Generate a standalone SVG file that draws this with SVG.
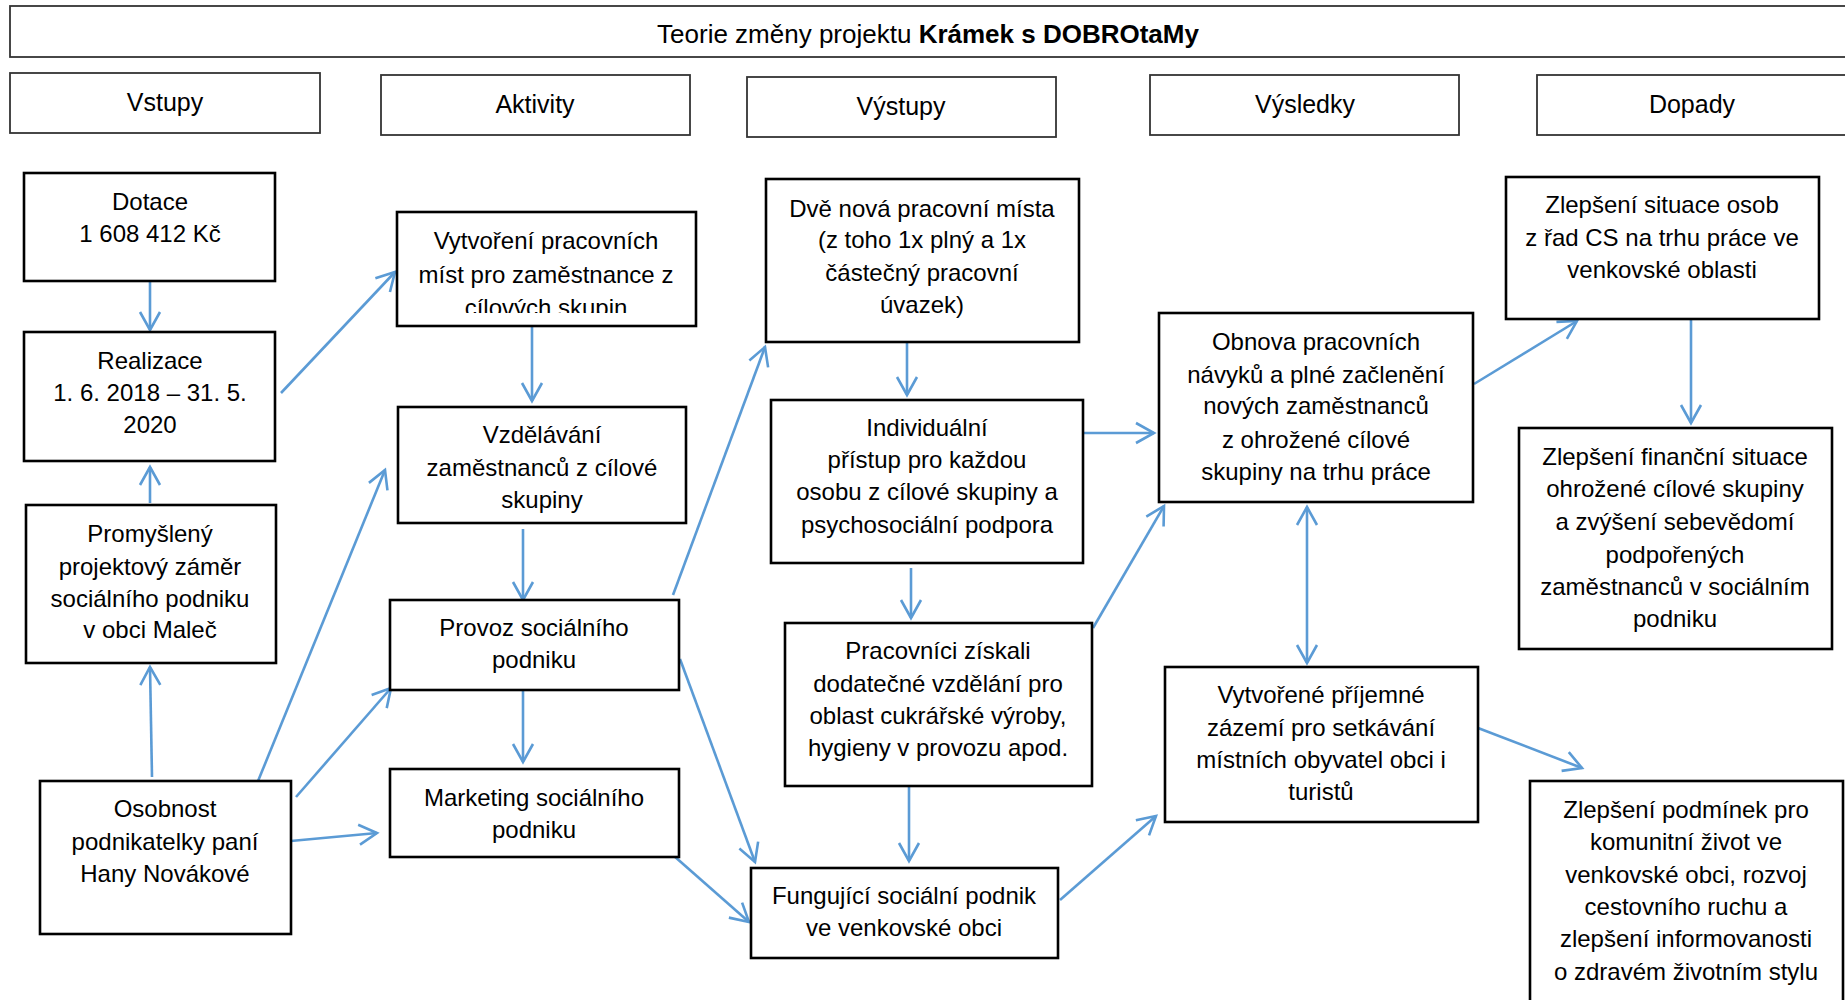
<svg xmlns="http://www.w3.org/2000/svg" width="1845" height="1000" viewBox="0 0 1845 1000">
<style>
text { font-family: "Liberation Sans", Arial, sans-serif; font-size: 24px; text-anchor: middle; fill: #000; }
.node rect { fill: #fff; stroke: #000; stroke-width: 2.6; }
.hdr rect { fill: #fff; stroke: #333; stroke-width: 1.8; }
.hdr text { font-size: 25px; }
#title text { font-size: 26px; }
.conn line { stroke: #5B9BD5; stroke-width: 2.6; fill: none; marker-end: url(#arr); }
.conn line.both { marker-start: url(#arr); }
</style>
<defs>
<marker id="arr" markerUnits="userSpaceOnUse" markerWidth="24" markerHeight="24" viewBox="0 0 24 24" refX="21" refY="12" orient="auto-start-reverse">
<path d="M3,2 L21,12 L3,22" fill="none" stroke="#5B9BD5" stroke-width="2.6"/>
</marker>
<clipPath id="clipVyt"><rect x="397" y="212" width="299" height="101"/></clipPath>
</defs>
<rect x="0" y="0" width="1845" height="1000" fill="#fff"/>

<g id="title" class="hdr">
<rect x="10" y="6" width="1837" height="51"/>
<text x="928" y="43">Teorie změny projektu <tspan font-weight="bold">Krámek s DOBROtaMy</tspan></text>
</g>

<g id="h-vstupy" class="hdr"><rect x="10" y="73" width="310" height="60"/><text x="165" y="111">Vstupy</text></g>
<g id="h-aktivity" class="hdr"><rect x="381" y="75" width="309" height="60"/><text x="535" y="113">Aktivity</text></g>
<g id="h-vystupy" class="hdr"><rect x="747" y="77" width="309" height="60"/><text x="901" y="115">Výstupy</text></g>
<g id="h-vysledky" class="hdr"><rect x="1150" y="75" width="309" height="60"/><text x="1305" y="113">Výsledky</text></g>
<g id="h-dopady" class="hdr"><rect x="1537" y="75" width="312" height="60"/><text x="1692" y="113">Dopady</text></g>

<g id="conns" class="conn">
<line x1="150" y1="282" x2="150" y2="330"/>
<line x1="150" y1="503" x2="150" y2="467"/>
<line x1="152" y1="777" x2="150" y2="667"/>
<line x1="281" y1="393" x2="395" y2="272"/>
<line x1="256" y1="786" x2="385" y2="470"/>
<line x1="296" y1="797" x2="391" y2="688"/>
<line x1="280" y1="842" x2="377" y2="833"/>
<line x1="532" y1="327" x2="532" y2="401"/>
<line x1="523" y1="529" x2="523" y2="600"/>
<line x1="523" y1="687" x2="523" y2="762"/>
<line x1="673" y1="595" x2="765" y2="347"/>
<line x1="680" y1="659" x2="755" y2="862"/>
<line x1="674" y1="856" x2="749" y2="922"/>
<line x1="907" y1="342" x2="907" y2="395"/>
<line x1="911" y1="568" x2="911" y2="618"/>
<line x1="909" y1="787" x2="909" y2="861"/>
<line x1="1084" y1="433" x2="1154" y2="433"/>
<line x1="1093" y1="628" x2="1164" y2="506"/>
<line x1="1060" y1="900" x2="1156" y2="816"/>
<line class="both" x1="1307" y1="507" x2="1307" y2="663"/>
<line x1="1474" y1="384" x2="1577" y2="321"/>
<line x1="1691" y1="319" x2="1691" y2="423"/>
<line x1="1478" y1="728" x2="1582" y2="768"/>
</g>

<g id="n-dotace" class="node"><rect x="24" y="173" width="251" height="108"/>
<text x="150" y="210">Dotace</text><text x="150" y="242">1 608 412 Kč</text></g>

<g id="n-realizace" class="node"><rect x="24" y="332" width="251" height="129"/>
<text x="150" y="369">Realizace</text><text x="150" y="401">1. 6. 2018 – 31. 5.</text><text x="150" y="433">2020</text></g>

<g id="n-zamer" class="node"><rect x="26" y="505" width="250" height="158"/>
<text x="150" y="542">Promyšlený</text><text x="150" y="575">projektový záměr</text><text x="150" y="607">sociálního podniku</text><text x="150" y="638">v obci Maleč</text></g>

<g id="n-osobnost" class="node"><rect x="40" y="781" width="251" height="153"/>
<text x="165" y="817">Osobnost</text><text x="165" y="850">podnikatelky paní</text><text x="165" y="882">Hany Novákové</text></g>

<g id="n-vytvoreni" class="node"><rect x="397" y="212" width="299" height="114"/>
<text x="546" y="249">Vytvoření pracovních</text><text x="546" y="283">míst pro zaměstnance z</text><text x="546" y="316" clip-path="url(#clipVyt)">cílových skupin</text></g>

<g id="n-vzdelavani" class="node"><rect x="398" y="407" width="288" height="116"/>
<text x="542" y="443">Vzdělávání</text><text x="542" y="476">zaměstnanců z cílové</text><text x="542" y="508">skupiny</text></g>

<g id="n-provoz" class="node"><rect x="390" y="600" width="289" height="90"/>
<text x="534" y="636">Provoz sociálního</text><text x="534" y="668">podniku</text></g>

<g id="n-marketing" class="node"><rect x="390" y="769" width="289" height="88"/>
<text x="534" y="806">Marketing sociálního</text><text x="534" y="838">podniku</text></g>

<g id="n-mista" class="node"><rect x="766" y="179" width="313" height="163"/>
<text x="922" y="217">Dvě nová pracovní místa</text><text x="922" y="248">(z toho 1x plný a 1x</text><text x="922" y="281">částečný pracovní</text><text x="922" y="313">úvazek)</text></g>

<g id="n-pristup" class="node"><rect x="771" y="400" width="312" height="163"/>
<text x="927" y="436">Individuální</text><text x="927" y="468">přístup pro každou</text><text x="927" y="500">osobu z cílové skupiny a</text><text x="927" y="533">psychosociální podpora</text></g>

<g id="n-pracovnici" class="node"><rect x="785" y="623" width="307" height="163"/>
<text x="938" y="659">Pracovníci získali</text><text x="938" y="692">dodatečné vzdělání pro</text><text x="938" y="724">oblast cukrářské výroby,</text><text x="938" y="756">hygieny v provozu apod.</text></g>

<g id="n-fungujici" class="node"><rect x="751" y="868" width="307" height="90"/>
<text x="904" y="904">Fungující sociální podnik</text><text x="904" y="936">ve venkovské obci</text></g>

<g id="n-obnova" class="node"><rect x="1159" y="313" width="314" height="189"/>
<text x="1316" y="350">Obnova pracovních</text><text x="1316" y="383">návyků a plné začlenění</text><text x="1316" y="414">nových zaměstnanců</text><text x="1316" y="448">z ohrožené cílové</text><text x="1316" y="480">skupiny na trhu práce</text></g>

<g id="n-zazemi" class="node"><rect x="1165" y="667" width="313" height="155"/>
<text x="1321" y="703">Vytvořené příjemné</text><text x="1321" y="736">zázemí pro setkávání</text><text x="1321" y="768">místních obyvatel obci i</text><text x="1321" y="800">turistů</text></g>

<g id="n-situace" class="node"><rect x="1506" y="177" width="313" height="142"/>
<text x="1662" y="213">Zlepšení situace osob</text><text x="1662" y="246">z řad CS na trhu práce ve</text><text x="1662" y="278">venkovské oblasti</text></g>

<g id="n-financni" class="node"><rect x="1519" y="428" width="313" height="221"/>
<text x="1675" y="465">Zlepšení finanční situace</text><text x="1675" y="497">ohrožené cílové skupiny</text><text x="1675" y="530">a zvýšení sebevědomí</text><text x="1675" y="563">podpořených</text><text x="1675" y="595">zaměstnanců v sociálním</text><text x="1675" y="627">podniku</text></g>

<g id="n-podminky" class="node"><rect x="1530" y="781" width="313" height="230"/>
<text x="1686" y="818">Zlepšení podmínek pro</text><text x="1686" y="850">komunitní život ve</text><text x="1686" y="883">venkovské obci, rozvoj</text><text x="1686" y="915">cestovního ruchu a</text><text x="1686" y="947">zlepšení informovanosti</text><text x="1686" y="980">o zdravém životním stylu</text></g>
</svg>
